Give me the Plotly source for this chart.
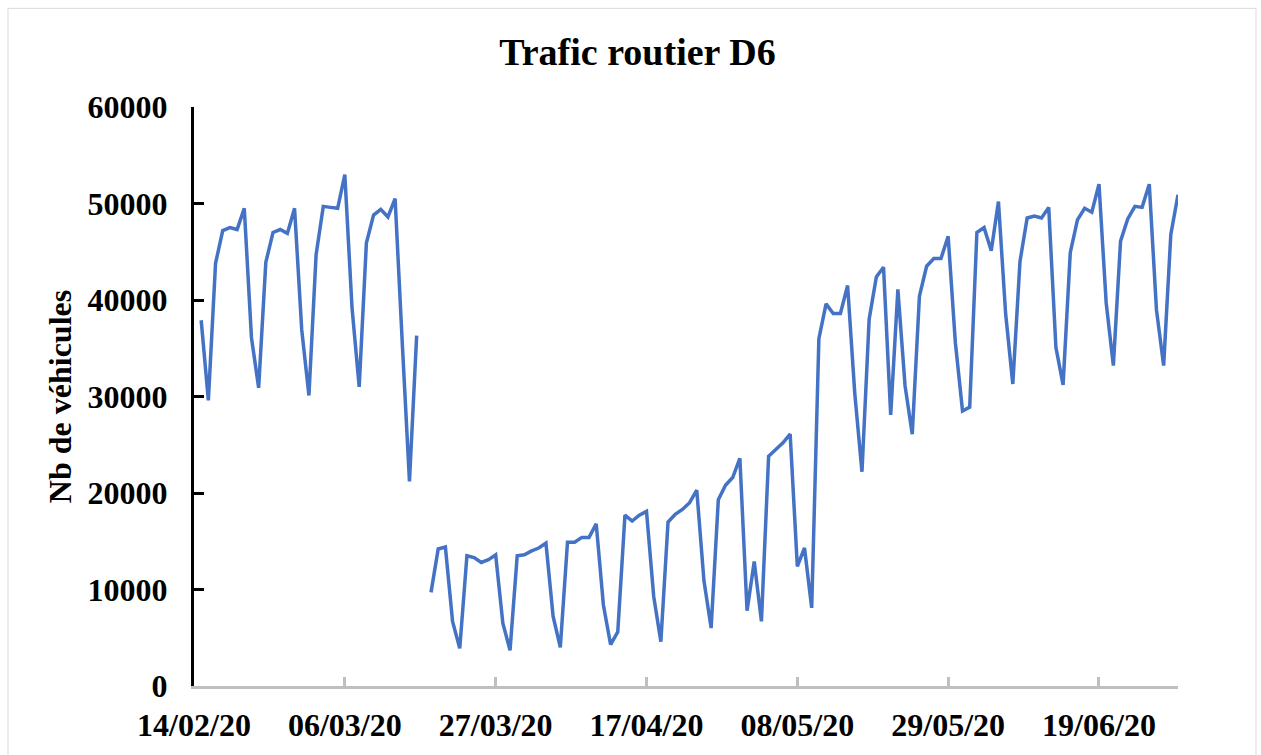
import pandas as pd
import plotly.graph_objects as go

# Daily traffic values (vehicles/day), 15/02/2020 -> 30/06/2020 (17/03 missing)
feb = [37900, 29600, 43800, 47200, 47500, 47300, 49500, 36100, 30900, 43900,
       47000, 47300, 46900, 49500, 36900]
mar = [30100, 44700, 49700, 49600, 49500, 53000, 39200, 31000, 45900, 48800,
       49400, 48600, 50500, 35500, 21200, 36300, None, 9700, 14200, 14400,
       6700, 3900, 13500, 13300, 12800, 13100, 13600, 6500, 3700, 13500, 13600]
apr = [14000, 14300, 14800, 7200, 4000, 14900, 14900, 15400, 15400, 16800,
       8400, 4300, 5600, 17700, 17100, 17700, 18100, 9300, 4600, 17000,
       17800, 18300, 19000, 20300, 10900, 6000, 19300, 20800, 21600, 23600]
may = [7800, 12900, 6700, 23800, 24500, 25200, 26100, 12400, 14300, 8100,
       36000, 39600, 38600, 38600, 41500, 30300, 22200, 38000, 42400, 43400,
       28100, 41100, 31100, 26100, 40400, 43500, 44300, 44300, 46600, 35600, 28500]
jun = [28900, 47000, 47500, 45100, 50200, 38600, 31300, 44000, 48500, 48700,
       48500, 49600, 35100, 31200, 44900, 48300, 49500, 49100, 52000, 39700,
       33200, 46100, 48400, 49700, 49600, 52000, 39000, 33200, 46800, 50900]

values = feb + mar + apr + may + jun
dates = pd.date_range("2020-02-15", "2020-06-30", freq="D")

x_tickvals = ["2020-02-14", "2020-03-06", "2020-03-27", "2020-04-17",
              "2020-05-08", "2020-05-29", "2020-06-19"]
x_ticktext = ["14/02/20", "06/03/20", "27/03/20", "17/04/20",
              "08/05/20", "29/05/20", "19/06/20"]
y_tickvals = [0, 10000, 20000, 30000, 40000, 50000, 60000]
y_ticktext = ["0", "10000", "20000", "30000", "40000", "50000", "60000"]

FONT = "Liberation Serif"

fig = go.Figure()
fig.add_trace(go.Scatter(
    x=dates, y=values, mode="lines",
    line=dict(color="#4472C4", width=3.5),
    connectgaps=False, showlegend=False,
))

fig.update_layout(
    width=1261, height=755,
    margin=dict(l=194, r=83, t=107, b=67),
    paper_bgcolor="white", plot_bgcolor="white",
    title=dict(text="Trafic routier D6", x=0.5055, xanchor="center",
               y=0.931, yanchor="middle",
               font=dict(family=FONT, size=38, color="black", weight="bold")),
    xaxis=dict(
        type="date", range=["2020-02-14", "2020-06-30"],
        tickvals=x_tickvals, ticktext=x_ticktext,
        showgrid=False, zeroline=False,
        showline=True, linecolor="#BFBFBF", linewidth=3,
        ticks="inside", ticklen=9, tickwidth=3, tickcolor="#BFBFBF",
        tickfont=dict(family=FONT, size=32, color="black", weight="bold"),
        ticklabelstandoff=9,
    ),
    yaxis=dict(
        range=[0, 60000],
        tickvals=y_tickvals, ticktext=y_ticktext,
        showgrid=False, zeroline=False,
        showline=True, linecolor="black", linewidth=3,
        ticks="inside", ticklen=10, tickwidth=3, tickcolor="black",
        tickfont=dict(family=FONT, size=32, color="black", weight="bold"),
        ticklabelstandoff=17,
        title=dict(text="Nb de véhicules", standoff=7,
                   font=dict(family=FONT, size=32, color="black", weight="bold")),
    ),
    shapes=[dict(type="rect", xref="paper", yref="paper",
                 x0=(8 - 194) / 984, x1=(1256 - 194) / 984,
                 y0=-0.2, y1=(688 - 8) / 581,
                 line=dict(color="#D9D9D9", width=1), layer="below")],
)

fig.write_html("out.html", config={"displayModeBar": False},
               post_script="document.body.style.margin='0';document.body.style.overflow='hidden';")
